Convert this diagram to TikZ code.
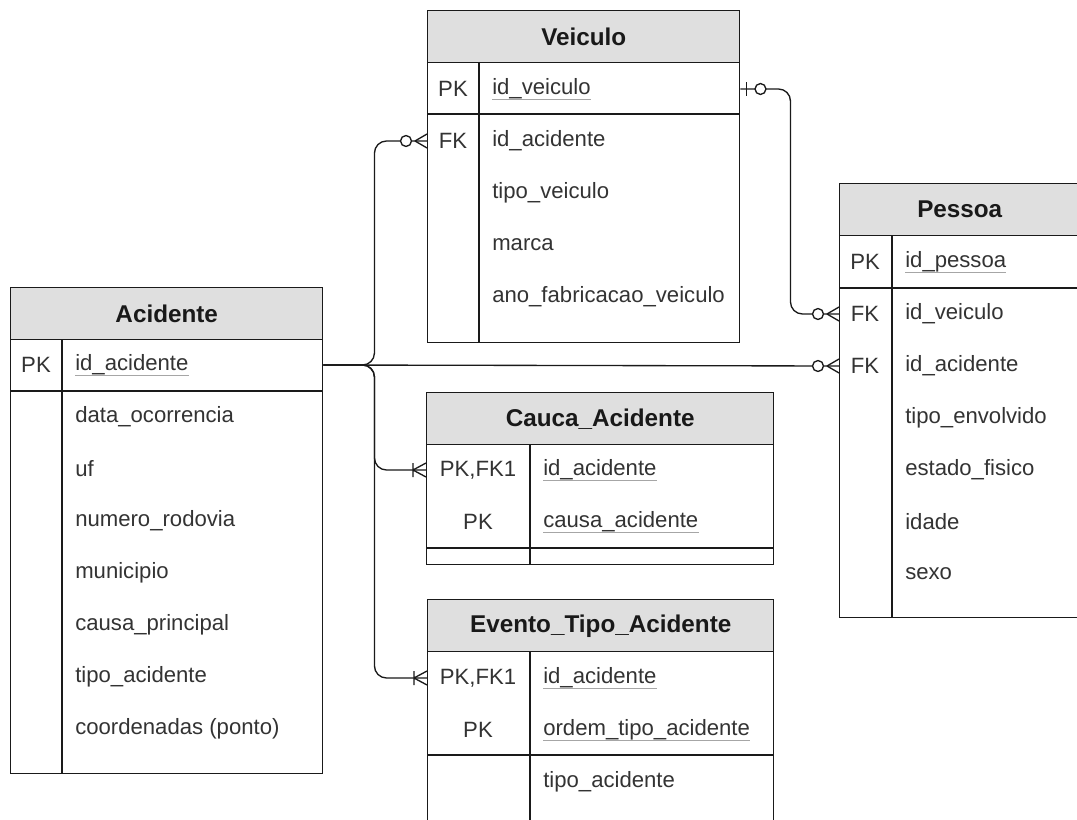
\documentclass[tikz,border=0pt]{standalone}
\usepackage{fontspec}
\setmainfont{Liberation Sans}
\usepackage{tikz}
\usetikzlibrary{positioning}
\definecolor{headgray}{HTML}{DFDFDF}
\definecolor{txtgray}{HTML}{333333}
\definecolor{linegray}{HTML}{1A1A1A}

\begin{document}
\begin{tikzpicture}[
x=0.75pt, y=-0.75pt,
tablebox/.style={rectangle, draw=linegray, line width=1.1pt, inner sep=0pt, anchor=north west},
headbox/.style={tablebox, fill=headgray, font=\fontsize{18.2}{21}\selectfont\bfseries, text=black!90},
keytext/.style={font=\fontsize{16.6}{19}\selectfont, text=txtgray, inner sep=0pt},
fieldtext/.style={keytext, anchor=west},
sepline/.style={draw=linegray, line width=1.1pt},
relline/.style={draw=linegray, line width=1pt, rounded corners=9pt},
ulline/.style={draw=black!35, line width=1pt},
zeromany/.pic={\draw[linegray, line width=1pt] (-12,0) -- (0,-7) (-12,0) -- (0,7);
  \draw[linegray, line width=1pt, fill=white] (-21,0) circle[radius=4.1pt];},
onemany/.pic={\draw[linegray, line width=1pt] (-13,0) -- (0,-7) (-13,0) -- (0,7) (-13,-7) -- (-13,7);},
zeroone/.pic={\draw[linegray, line width=1pt] (-6,-7) -- (-6,7);
  \draw[linegray, line width=1pt, fill=white] (-20,0) circle[radius=4.1pt];},
]
\fill[white] (0,0) rectangle (1077,820);
\useasboundingbox (0,0) rectangle (1077,820);
\clip (0,0) rectangle (1077,820);

%Acidente
\node[headbox, minimum width=312*0.75pt, minimum height=52*0.75pt] (acidente-head) at (10,287) {Acidente};
\node[tablebox, minimum width=312*0.75pt, minimum height=434*0.75pt] (acidente) at (10,339) {};
\draw[sepline] (acidente.north west) ++(0,52) -- ++(312,0);
\draw[sepline] (acidente.north west) ++(52,0) -- ++(0,434);
\node[keytext]   (acidente-pk) at (36,365) {PK};
\node[fieldtext] (acidente-id) at (75,365) {id\_acidente};
\foreach \f [count=\i] in {data\_ocorrencia, uf, numero\_rodovia, municipio, causa\_principal, tipo\_acidente, coordenadas (ponto)}
  \node[fieldtext] (acidente-f\i) at (75,365+52*\i) {\f};

%Veiculo
\node[headbox, minimum width=312*0.75pt, minimum height=52*0.75pt] (veiculo-head) at (427,10) {Veiculo};
\node[tablebox, minimum width=312*0.75pt, minimum height=280*0.75pt] (veiculo) at (427,62) {};
\draw[sepline] (veiculo.north west) ++(0,52) -- ++(312,0);
\draw[sepline] (veiculo.north west) ++(52,0) -- ++(0,280);
\node[keytext]   (veiculo-pk) at (453,89) {PK};
\node[fieldtext] (veiculo-id) at (492,89) {id\_veiculo};
\node[keytext]   (veiculo-fk) at (453,141) {FK};
\node[fieldtext] (veiculo-acid) at (492,141) {id\_acidente};
\foreach \f [count=\i] in {tipo\_veiculo, marca, ano\_fabricacao\_veiculo}
  \node[fieldtext] (veiculo-f\i) at (492,141+52*\i) {\f};

%Pessoa
\node[headbox, minimum width=240*0.75pt, minimum height=52*0.75pt] (pessoa-head) at (839,183) {Pessoa};
\node[tablebox, minimum width=240*0.75pt, minimum height=382*0.75pt] (pessoa) at (839,235) {};
\draw[sepline] (pessoa.north west) ++(0,53) -- ++(240,0);
\draw[sepline] (pessoa.north west) ++(53,0) -- ++(0,382);
\node[keytext]   (pessoa-pk) at (865,262) {PK};
\node[fieldtext] (pessoa-id) at (905,262) {id\_pessoa};
\node[keytext]   (pessoa-fk1) at (865,314) {FK};
\node[fieldtext] (pessoa-veic) at (905,314) {id\_veiculo};
\node[keytext]   (pessoa-fk2) at (865,366) {FK};
\node[fieldtext] (pessoa-acid) at (905,366) {id\_acidente};
\foreach \f [count=\i] in {tipo\_envolvido, estado\_fisico, idade, sexo}
  \node[fieldtext] (pessoa-f\i) at (905,366+52*\i) {\f};

%Cauca_Acidente
\node[headbox, minimum width=347*0.75pt, minimum height=52*0.75pt] (cauca-head) at (426,392) {Cauca\_Acidente};
\node[tablebox, minimum width=347*0.75pt, minimum height=120*0.75pt] (cauca) at (426,444) {};
\draw[sepline] (cauca.north west) ++(0,104) -- ++(347,0);
\draw[sepline] (cauca.north west) ++(104,0) -- ++(0,120);
\node[keytext]   (cauca-k1) at (478,470) {PK,FK1};
\node[fieldtext] (cauca-acid) at (543,470) {id\_acidente};
\node[keytext]   (cauca-k2) at (478,522) {PK};
\node[fieldtext] (cauca-causa) at (543,522) {causa\_acidente};

%Evento_Tipo_Acidente
\node[headbox, minimum width=346*0.75pt, minimum height=52*0.75pt] (evento-head) at (427,599) {Evento\_Tipo\_Acidente};
\node[tablebox, minimum width=346*0.75pt, minimum height=240*0.75pt] (evento) at (427,651) {};
\draw[sepline] (evento.north west) ++(0,104) -- ++(346,0);
\draw[sepline] (evento.north west) ++(103,0) -- ++(0,240);
\node[keytext]   (evento-k1) at (478,678) {PK,FK1};
\node[fieldtext] (evento-acid) at (543,678) {id\_acidente};
\node[keytext]   (evento-k2) at (478,730) {PK};
\node[fieldtext] (evento-ordem) at (543,730) {ordem\_tipo\_acidente};
\node[fieldtext] (evento-tipo) at (543,782) {tipo\_acidente};

\foreach \n in {acidente-id, veiculo-id, pessoa-id, cauca-acid, cauca-causa, evento-acid, evento-ordem}
  \draw[ulline] ([yshift=-3.6pt]\n.base west) -- ([yshift=-3.6pt]\n.base east);

%Lines
\draw[relline] (acidente.east |- acidente-id) -- (pessoa.west |- pessoa-acid);
\draw[relline] (acidente.east |- acidente-id) -- ++(51,0) |- (veiculo.west |- veiculo-acid);
\draw[relline] (acidente.east |- acidente-id) -- ++(51,0) |- (cauca.west |- cauca-acid);
\draw[relline] (acidente.east |- acidente-id) -- ++(51,0) |- (evento.west |- evento-acid);
\draw[relline] (veiculo.east |- veiculo-id) -- ++(50,0) |- (pessoa.west |- pessoa-veic);

\pic at (pessoa.west |- pessoa-acid) {zeromany};
\pic at (pessoa.west |- pessoa-veic) {zeromany};
\pic at (veiculo.west |- veiculo-acid) {zeromany};
\pic at (cauca.west |- cauca-acid) {onemany};
\pic at (evento.west |- evento-acid) {onemany};
\pic[rotate=180] at (veiculo.east |- veiculo-id) {zeroone};
\end{tikzpicture}
\end{document}
